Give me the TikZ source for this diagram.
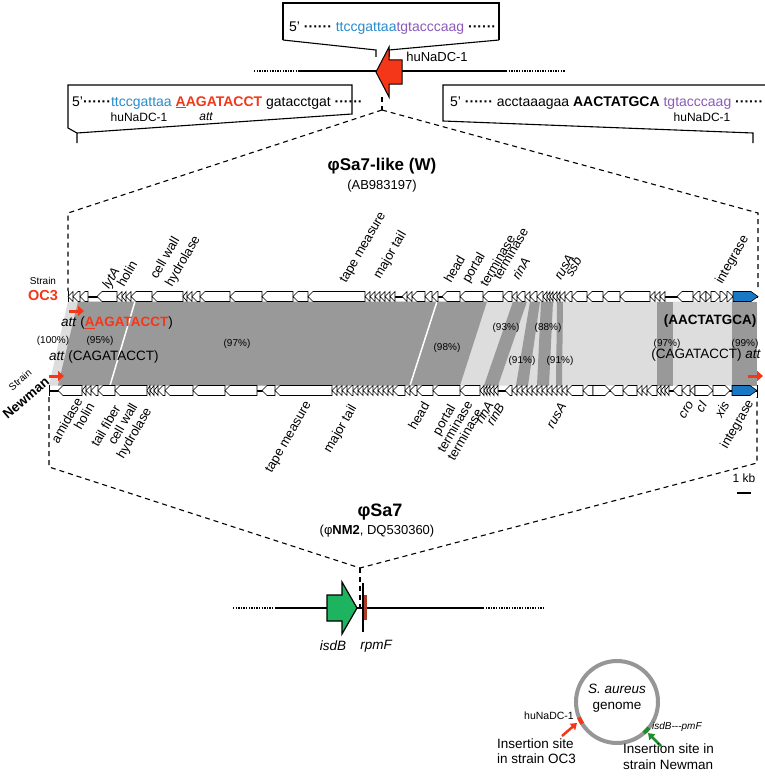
\documentclass[tikz,border=0pt]{standalone}
\usepackage{fontspec}
\setmainfont{Liberation Sans}
\usetikzlibrary{arrows.meta}
\definecolor{seqblue}{RGB}{40,140,205}
\definecolor{seqpurple}{RGB}{140,90,185}
\definecolor{hired}{RGB}{245,55,25}
\definecolor{darkreg}{RGB}{153,153,153}
\definecolor{lightreg}{RGB}{221,221,221}
\definecolor{intblue}{RGB}{25,120,195}
\definecolor{isdgreen}{RGB}{30,180,95}
\definecolor{arrgreen}{RGB}{30,140,40}
\definecolor{ringgray}{RGB}{150,150,150}
\definecolor{rpmred}{RGB}{170,60,40}
\newcommand{\fsz}[1]{\fontsize{#1}{#1}\selectfont}
\newcommand{\dts}{{\bfseries ······}}
\newcommand{\geneL}[4]{\pgfmathsetmacro{\ghl}{min(5,#2-#1)}%
 \filldraw[#4] (#2,{#3-5}) -- ({#1+\ghl},{#3-5}) -- (#1,#3) -- ({#1+\ghl},{#3+5}) -- (#2,{#3+5}) -- cycle;}
\newcommand{\geneR}[4]{\pgfmathsetmacro{\ghl}{min(5,#2-#1)}%
 \filldraw[#4] (#1,{#3-5}) -- ({#2-\ghl},{#3-5}) -- (#2,#3) -- ({#2-\ghl},{#3+5}) -- (#1,{#3+5}) -- cycle;}
\tikzset{
 txt/.style={inner sep=0pt, font=\fsz{13}},
 gl/.style={inner sep=0pt, rotate=60, font=\fsz{13}},
 glt/.style={gl, anchor=base west},
 glb/.style={gl, anchor=east},
 pct/.style={inner sep=0pt, font=\fsz{10}},
 seq/.style={inner sep=0pt, anchor=base west, font=\fsz{14}},
 boxline/.style={line width=1.1pt},
 dashline/.style={line width=1.1pt, dash pattern=on 5pt off 4pt},
 genebox/.style={draw=black, fill=white, line width=0.6pt},
 intbox/.style={draw=black, fill=intblue, line width=0.6pt},
 jarrow/.style={hired, line width=3pt, -{Triangle[length=6pt,width=10pt]}},
 gline/.style={line width=2pt},
 gdots/.style={line width=2pt, dash pattern=on 1.3pt off 1.3pt},
}
\begin{document}
\begin{tikzpicture}[x=1pt,y=-1pt]
\useasboundingbox (0,0) rectangle (765,776);
\fill[white] (0,0) rectangle (765,776);

% ---------- top locus (OC3 host) ----------
\draw[boxline] (283,40) -- (283,3) -- (499,3) -- (499,40);
\draw[boxline] (283,40) -- (376,50) -- (376,57);
\draw[boxline] (499,40) -- (389,50) -- (389,57);
\node[seq] (seqtop) at (289,32) {5' \dts\ {\color{seqblue}ttccgattaa}{\color{seqpurple}tgtacccaag} \dts};
\draw[gdots] (254,71) -- (298,71);
\draw[gline] (298,71) -- (506,71);
\draw[gdots] (506,71) -- (565,71);
\filldraw[fill=hired, draw=black, line width=1pt] (376,72) -- (389,47) -- (389,60) -- (402,60) -- (402,84) -- (389,84) -- (389,97) -- cycle;
\node[txt] (hutop) at (437,57) {huNaDC-1};

\coordinate (apex) at (382,110);
\coordinate (apt) at (382,97);
\coordinate (lu) at (68,213);
\coordinate (ru) at (758,213);
\coordinate (lr) at (68,291);
\coordinate (rr) at (758,291);
\draw[dashline] (apt) -- (apex);
\draw[dashline] (apex) -- (lu) -- (lr);
\draw[dashline] (apex) -- (ru) -- (rr);

% left callout box
\draw[boxline] (77,143) -- (77,133) -- (68,128) -- (68,85) -- (352,85) -- (352,114) -- (77,133);
\node[seq] (lseq) at (72,106) {5'\dts{\color{seqblue}ttccgattaa} {\color{hired}\bfseries\underline{A}AGATACCT} gatacctgat \dts};
\node[txt, font=\fsz{12}] (hul) at (139,117) {huNaDC-1};
\node[txt, font=\fsz{12}\itshape] (attl) at (206,117) {att};
% right callout box
\draw[boxline] (767,85) -- (443,85) -- (443,121) -- (753,133) -- (753,143);
\node[seq] (rseq) at (450,106) {5' \dts\ acctaaagaa {\bfseries AACTATGCA} {\color{seqpurple}tgtacccaag} \dts};
\node[txt, font=\fsz{12}] (hur) at (702,117) {huNaDC-1};

% titles
\node[txt, font=\fsz{17}\bfseries] (title1) at (382,166) {φSa7-like (W)};
\node[txt, font=\fsz{13}] (title1b) at (382,186) {(AB983197)};

% ---------- comparison region ----------
\fill[lightreg] (68,301.5) -- (757,301.5) -- (757,385.5) -- (49,385.5) -- cycle;
\fill[darkreg] (78,301.5) -- (487,301.5) -- (460,385.5) -- (58,385.5) -- cycle;
\draw[white, line width=1.5pt] (135,301.5) -- (110,385.5);
\draw[white, line width=1.5pt] (437,301.5) -- (410,385.5);
\fill[darkreg] (513,301.5) -- (527,301.5) -- (498,385.5) -- (484,385.5) -- cycle;
\fill[darkreg] (530,301.5) -- (540,301.5) -- (528,385.5) -- (516,385.5) -- cycle;
\fill[darkreg] (541,301.5) -- (553,301.5) -- (549,385.5) -- (537,385.5) -- cycle;
\fill[darkreg] (557,301.5) -- (563,301.5) -- (562,385.5) -- (556,385.5) -- cycle;
\fill[darkreg] (657,301.5) -- (673,301.5) -- (673,385.5) -- (657,385.5) -- cycle;
\fill[darkreg] (732,301.5) -- (757,301.5) -- (757,385.5) -- (732,385.5) -- cycle;

% top gene row (OC3)
\draw[line width=2pt] (68,296.5) -- (758,296.5);
\draw[line width=1pt] (68,291) -- (68,302);
\foreach \a/\b in {68/73,73/80,80/88,97/117,117/122,122/126,126/131,131/152,152/183,183/187,187/192,192/200,200/230,230/262,262/293,293/308,308/365,365/370,370/375,375/380,380/385,385/390,390/395,402/407,407/412,412/425,425/432,432/438,442/460,460/483,483/503,503/512,512/517,517/525,525/530,530/537,537/543,543/547,547/550,550/553,553/557,557/560,560/565,565/572,572/587,587/603,603/620,620/650,650/655,655/660,660/665,677/693,693/700,700/706}
 {\geneL{\a}{\b}{296.5}{genebox}}
\foreach \a/\b in {706/711,711/720,720/727,727/733}
 {\geneR{\a}{\b}{296.5}{genebox}}
\filldraw[intbox] (733,291.5) -- (751,291.5) -- (758,296.5) -- (751,301.5) -- (733,301.5) -- cycle;

% bottom gene row (Newman)
\draw[line width=2pt] (49,390.5) -- (757,390.5);
\draw[line width=1pt] (49,385) -- (49,396);
\draw[line width=1pt] (757,385) -- (757,398);
\foreach \a/\b in {58/82,82/86,86/91,91/98,98/115,115/147,147/150,150/154,154/158,158/165,165/193,193/225,225/257,262/275,275/332,332/337,337/342,342/347,347/353,353/358,358/363,363/368,368/373,373/378,378/383,383/388,388/393,393/405,405/410,410/417,417/433,433/460,460/480,480/484,484/487,487/490,490/494,494/498,505/512,512/517,517/522,522/527,527/532,532/537,537/542,542/547,547/552,552/557,557/562,562/567,567/583,583/593,610/623,623/637,637/642,642/647,647/657,657/661,661/665,665/669,673/682,682/690,690/695}
 {\geneL{\a}{\b}{390.5}{genebox}}
\foreach \a/\b in {593/610,695/713,713/730}
 {\geneR{\a}{\b}{390.5}{genebox}}
\filldraw[intbox] (732,385.5) -- (750,385.5) -- (757,390.5) -- (750,395.5) -- (732,395.5) -- cycle;

% strain labels
\node[txt, font=\fsz{10}] (st1) at (43,281) {Strain};
\node[txt, font=\fsz{14.5}\bfseries, text=hired] (oc3) at (43,296) {OC3};
\node[txt, font=\fsz{10}, rotate=40] (st2) at (20,380) {Strain};
\node[txt, font=\fsz{13.5}\bfseries, rotate=40] (nwm) at (26,398) {Newman};

% junction arrows
\coordinate (ja1) at (69,311); \coordinate (jb1) at (84,311);
\coordinate (ja2) at (49,376); \coordinate (jb2) at (64,376);
\coordinate (ja3) at (748,376); \coordinate (jb3) at (763,376);
\draw[jarrow] (ja1) -- (jb1);
\draw[jarrow] (ja2) -- (jb2);
\draw[jarrow] (ja3) -- (jb3);

% region labels
\node[txt, anchor=west, font=\fsz{13.5}] (attoc) at (61,323) {\textit{att} ({\color{hired}\bfseries\underline{A}AGATACCT})};
\node[txt, anchor=west, font=\fsz{13.5}] (attnw) at (49,357) {\textit{att} (CAGATACCT)};
\node[txt, font=\fsz{13.5}\bfseries] (aac) at (710,321) {(AACTATGCA)};
\node[txt, font=\fsz{13.5}] (attr) at (706,355) {(CAGATACCT) \textit{att}};
\node[pct] (p100) at (53,341) {(100\%)};
\node[pct] (p95) at (100,341) {(95\%)};
\node[pct] (p97) at (237,344) {(97\%)};
\node[pct] (p98) at (447,348) {(98\%)};
\node[pct] (p93) at (506,328) {(93\%)};
\node[pct] (p88) at (548,328) {(88\%)};
\node[pct] (p91a) at (522,361) {(91\%)};
\node[pct] (p91b) at (560,361) {(91\%)};
\node[pct] (p97b) at (667,344) {(97\%)};
\node[pct] (p99) at (745,344) {(99\%)};

% top gene labels
\node[glt, font=\fsz{13}\itshape] (tl1) at (109,290) {lytA};
\node[glt] (tl2) at (124,288) {holin};
\node[glt] (tl3) at (157,280) {cell wall};
\node[glt] (tl4) at (172,288) {hydrolase};
\node[glt] (tl5) at (346,284) {tape measure};
\node[glt] (tl6) at (380,280) {major tail};
\node[glt] (tl7) at (451,284) {head};
\node[glt] (tl8) at (469,284) {portal};
\node[glt] (tl9) at (487,288) {terminase};
\node[glt] (tl10) at (500,281) {terminase};
\node[glt, font=\fsz{13}\itshape] (tl11) at (519,281) {rinA};
\node[glt, font=\fsz{13}\itshape] (tl12) at (561,281) {rusA};
\node[glt, font=\fsz{13}\itshape] (tl13) at (572,278) {ssb};
\node[glt] (tl14) at (722,285) {integrase};

% bottom gene labels
\node[glb] (bl1) at (79,399) {amidase};
\node[glb] (bl2) at (91,404) {holin};
\node[glb] (bl3) at (117,406) {tail fiber};
\node[glb] (bl4) at (134,404) {cell wall};
\node[glb] (bl5) at (149,409) {hydrolase};
\node[glb] (bl6) at (309,403) {tape measure};
\node[glb] (bl7) at (354,406) {major tail};
\node[glb] (bl8) at (426,403) {head};
\node[glb] (bl9) at (453,406) {portal};
\node[glb] (bl10) at (469,402) {terminase};
\node[glb] (bl11) at (479,410) {terminase};
\node[glb, font=\fsz{13}\itshape] (bl12) at (490,402) {rinA};
\node[glb, font=\fsz{13}\itshape] (bl13) at (501,404) {rinB};
\node[glb, font=\fsz{13}\itshape] (bl14) at (563,404) {rusA};
\node[glb, font=\fsz{13}\itshape] (bl15) at (691,402) {cro};
\node[glb, font=\fsz{13}\itshape] (bl16) at (704,402) {cI};
\node[glb, font=\fsz{13}\itshape] (bl17) at (726,402) {xis};
\node[glb] (bl18) at (751,401) {integrase};

% scale bar
\node[txt, font=\fsz{12}] (kb) at (744,478) {1 kb};
\coordinate (kba) at (737,493); \coordinate (kbb) at (751,493);
\draw[line width=2.5pt] (kba) -- (kbb);

% lower dashed lines
\coordinate (ll1) at (49,397); \coordinate (ll2) at (49,467);
\coordinate (rl1) at (757,397); \coordinate (rl2) at (757,463);
\coordinate (apex2) at (360,568); \coordinate (apb) at (360,607);
\draw[dashline] (ll1) -- (ll2) -- (apex2) -- (rl2) -- (rl1);
\draw[dashline] (apex2) -- (apb);

\node[txt, font=\fsz{18}\bfseries] (title2) at (380,512) {φSa7};
\node[txt, font=\fsz{13}] (title2b) at (377,531) {(φ\textbf{NM2}, DQ530360)};

% Newman locus
\draw[gdots] (233,608) -- (275,608);
\draw[gline] (275,608) -- (483,608);
\draw[gdots] (483,608) -- (543,608);
\filldraw[fill=isdgreen, draw=black, line width=1.2pt] (327,595) -- (342,595) -- (342,582) -- (357,608) -- (342,634) -- (342,621) -- (327,621) -- cycle;
\draw[line width=1.5pt] (363,583) -- (363,632);
\fill[rpmred] (364.3,595) rectangle (366.5,620);
\node[txt, font=\fsz{13.5}\itshape] (isdb) at (333,646) {isdB};
\node[txt, font=\fsz{13.5}\itshape] (rpmf) at (376,646) {rpmF};

% genome circle
\draw[ringgray, line width=4pt] (617,702) circle (41);
\draw[hired, line width=4pt] (617,702) ++(158:41) arc (158:148:41);
\draw[arrgreen, line width=4pt] (617,702) ++(49:41) arc (49:39:41);
\node[txt, font=\fsz{13.5}\itshape] (sa) at (617,689) {S. aureus};
\node[txt, font=\fsz{13.5}] (gen) at (617,707) {genome};
\node[txt, anchor=east, font=\fsz{10.5}] (hucirc) at (574,716) {huNaDC-1};
\node[txt, anchor=west, font=\fsz{10}\itshape] (isdpmf) at (652,727) {isdB{-}{-}{-}pmF};
\coordinate (ra1) at (562,736); \coordinate (ra2) at (577,723);
\coordinate (ga1) at (661,746); \coordinate (ga2) at (648,733);
\draw[hired, line width=2.5pt, -{Triangle[length=6pt,width=8pt]}] (ra1) -- (ra2);
\draw[arrgreen, line width=2.5pt, -{Triangle[length=6pt,width=8pt]}] (ga1) -- (ga2);
\node[txt, anchor=west, font=\fsz{13.5}] (ins1) at (497,744) {Insertion site};
\node[txt, anchor=west, font=\fsz{13.5}] (ins1b) at (497,759) {in strain OC3};
\node[txt, anchor=west, font=\fsz{13.5}] (ins2) at (623,749) {Insertion site in};
\node[txt, anchor=west, font=\fsz{13.5}] (ins2b) at (623,765) {strain Newman};
\end{tikzpicture}
\end{document}
